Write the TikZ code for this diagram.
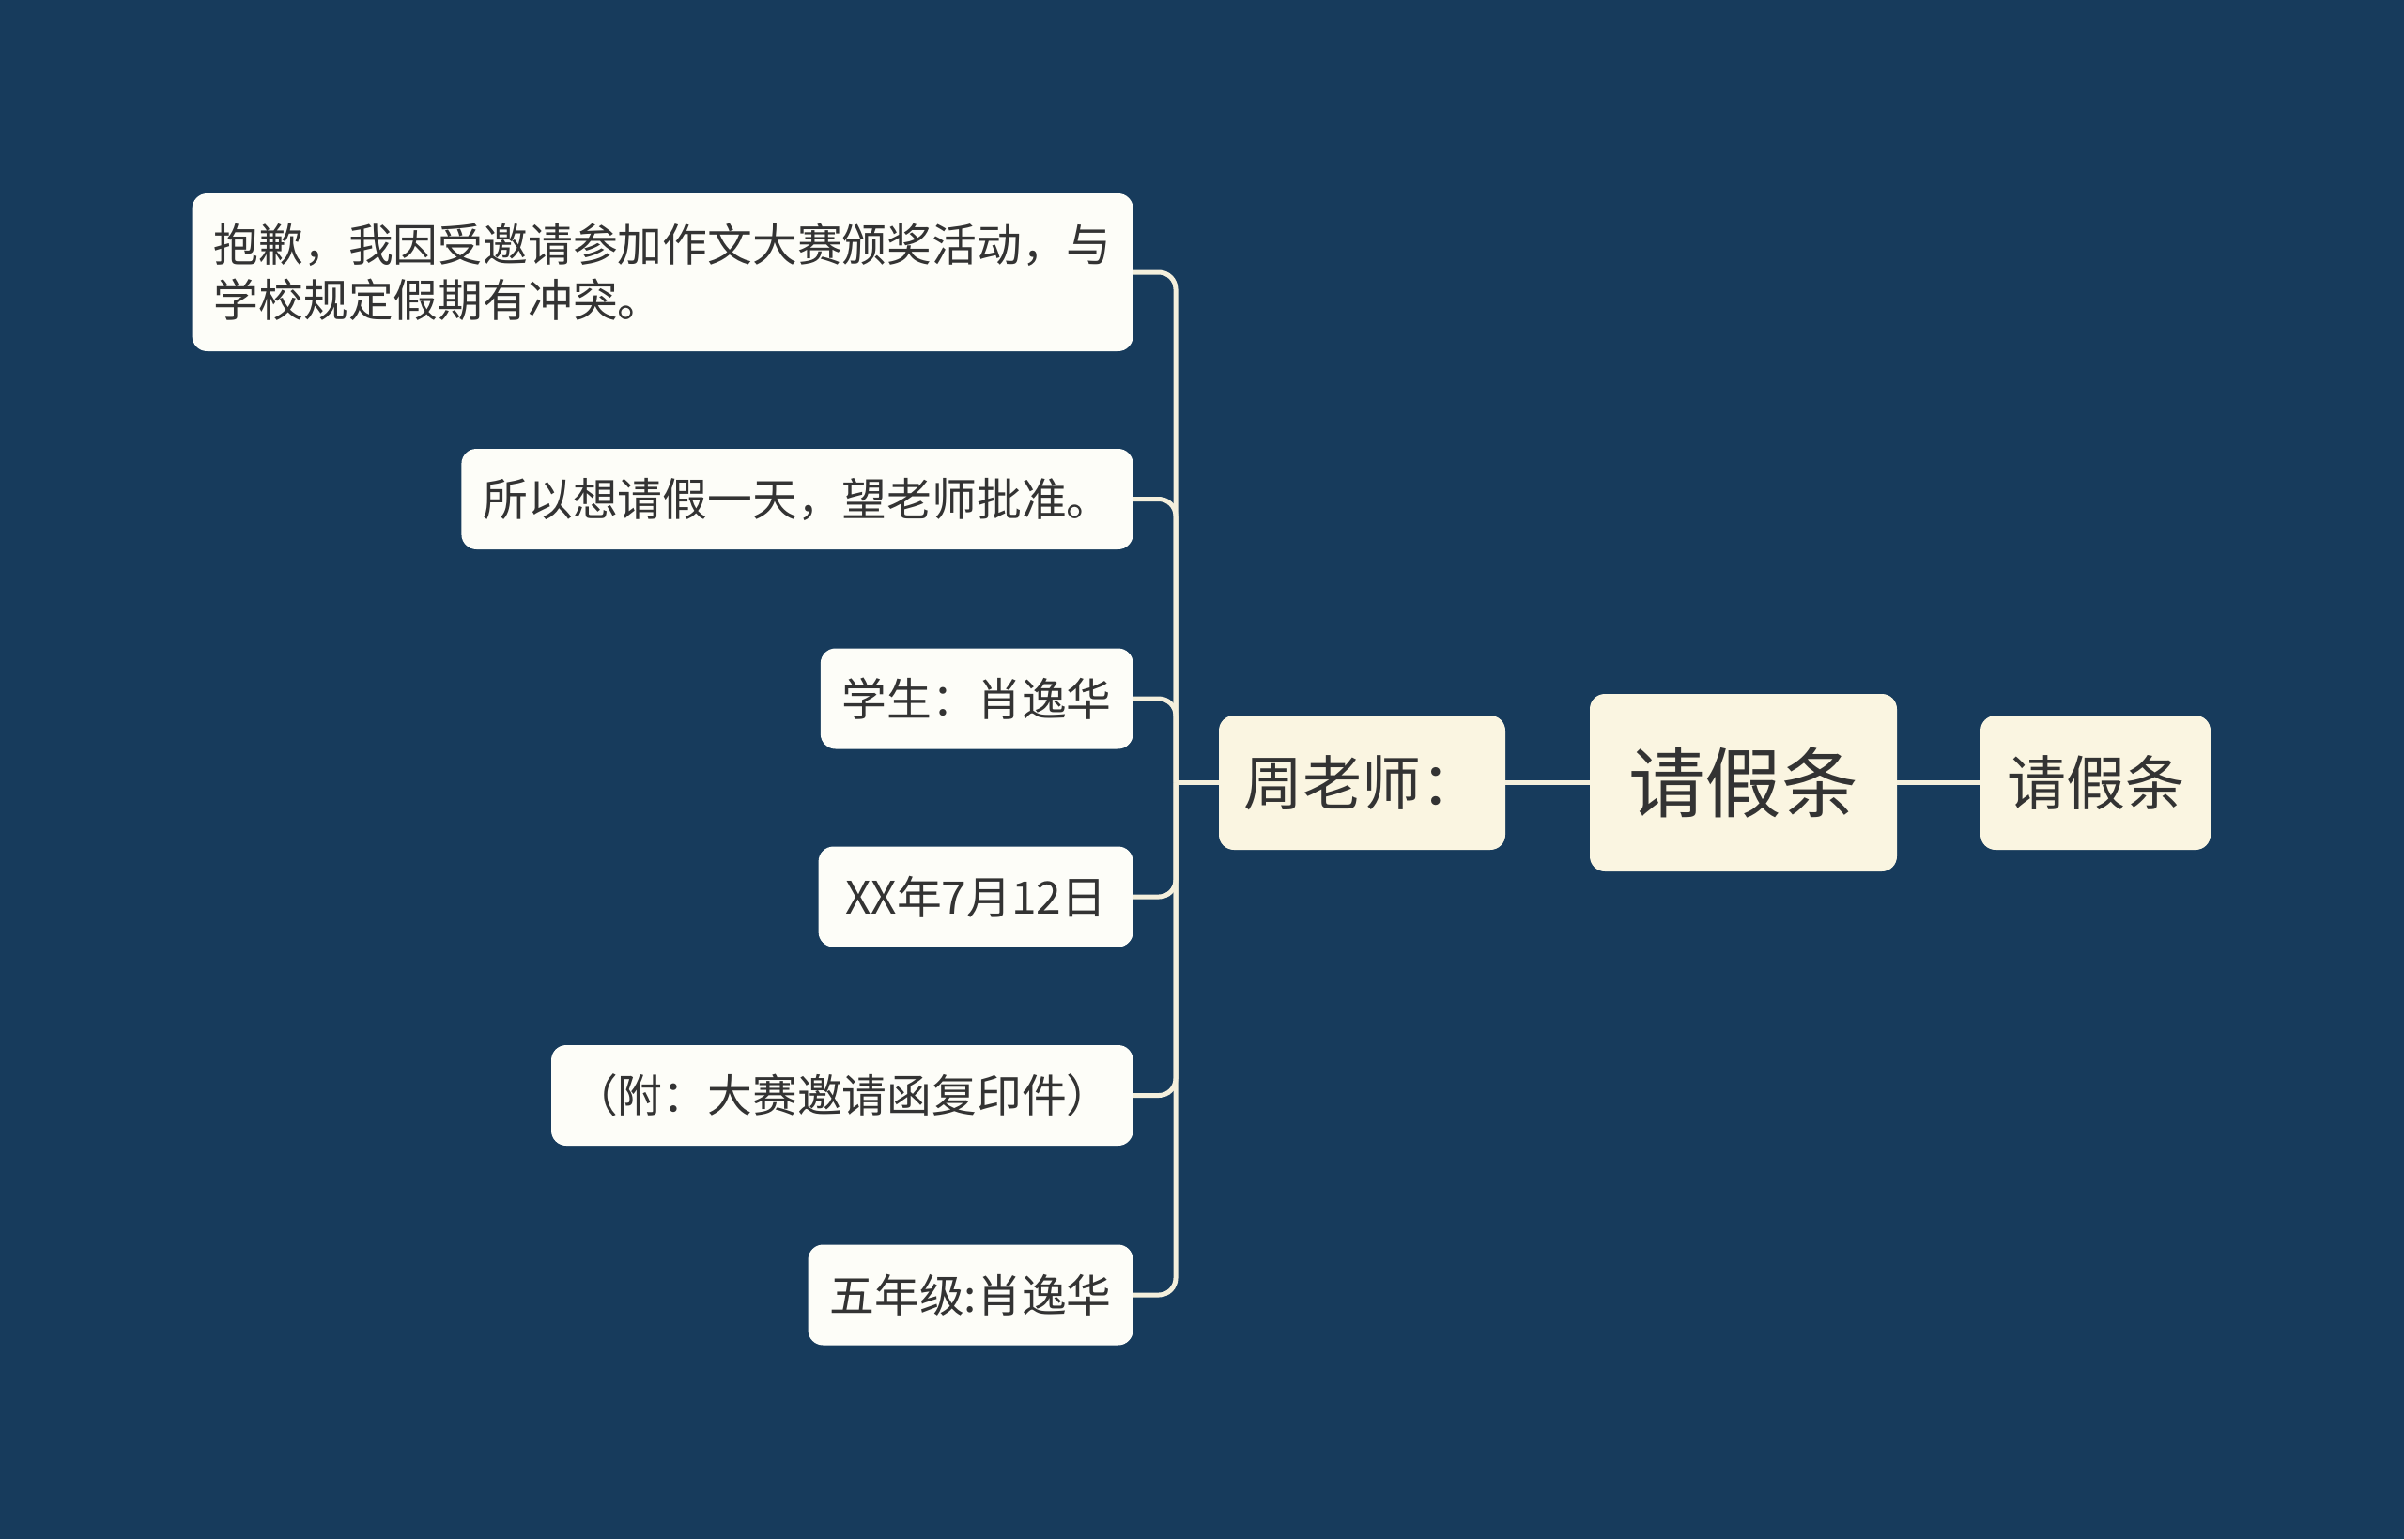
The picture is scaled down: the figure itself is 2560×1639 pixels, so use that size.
\documentclass[tikz,border=0pt]{standalone}
\usepackage{fontspec}
\newfontfamily\cjk{Noto Sans CJK SC}
\usetikzlibrary{positioning}
\definecolor{bgblue}{HTML}{173B5C}
\definecolor{leaffill}{HTML}{FDFDF8}
\definecolor{mainfill}{HTML}{FAF5E1}
\definecolor{linkcol}{HTML}{F4EFDC}
\definecolor{txt}{HTML}{333333}

\begin{document}
\begin{tikzpicture}[x=0.5pt,y=-0.5pt,
    every node/.style={text=txt},
    leaf/.style={fill=leaffill,rounded corners=8pt,anchor=east,inner xsep=11.5pt,
      minimum height=53.5pt,font=\cjk\fontsize{23.9pt}{29.5pt}\selectfont},
    topic/.style={fill=mainfill,rounded corners=8pt,minimum height=71.5pt,
      font=\cjk\fontsize{31.5pt}{36pt}\selectfont},
    link/.style={draw=linkcol,line width=2.5pt,rounded corners=9pt}]
  \fill[bgblue] (0,0) rectangle (2560,1639);
  \useasboundingbox (0,0) rectangle (2560,1639);

  % main line
  \node[topic,minimum width=163.5pt,minimum height=94.5pt,
    font=\cjk\fontsize{40.8pt}{46pt}\selectfont] (title) at (1856.5,833.5) {请假条};
  \node[topic,minimum width=152.5pt] (teacher) at (1450.5,833.5) {周老师：};
  \node[topic,minimum width=122.5pt] (note) at (2231.5,833.5) {请假条};

  % leaves
  \node[leaf,align=left,minimum height=84pt] (sorry) at (1207,290)
    {抱歉，我因受邀请参加作文大赛颁奖活动，与\\学校规定假期有冲突。};
  \node[leaf] (ask) at (1207,531.5) {所以想请假一天，望老师批准。};
  \node[leaf] (student) at (1207,744) {学生：肖逸华};
  \node[leaf,minimum width=167.5pt] (date) at (1207,955) {XX年7月12日};
  \node[leaf] (attach) at (1207,1166.5) {（附：大赛邀请函复印件）};
  \node[leaf] (grade) at (1207,1379) {五年级:肖逸华};

  \coordinate (hub) at (1252,833.5);
  \draw[link] (title.east) -- (note.west);
  \draw[link] (teacher.east) -- (title.west);
  \draw[link] (teacher.west) -- (hub);
  \foreach \leaf in {sorry,ask,student,date,attach,grade}
    \draw[link] (hub) |- (\leaf.east);
\end{tikzpicture}
\end{document}
